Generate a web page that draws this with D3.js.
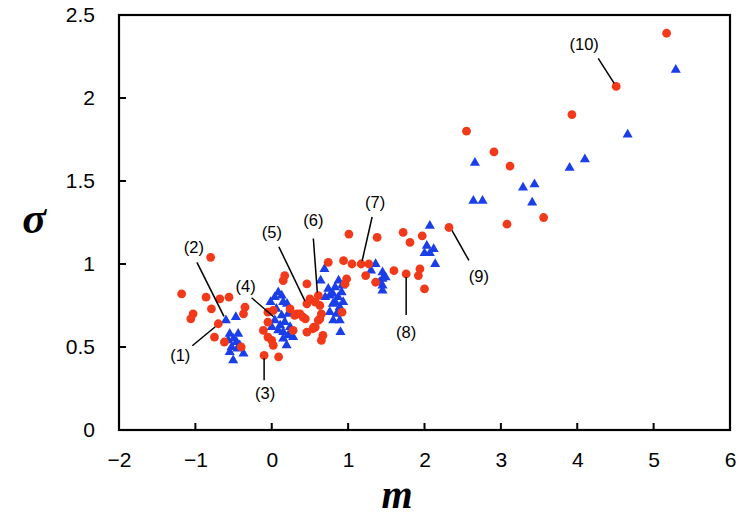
<!DOCTYPE html>
<html><head><meta charset="utf-8">
<script src="https://cdn.jsdelivr.net/npm/d3@7"></script>
<style>body{margin:0;background:#fff}svg{display:block}</style>
</head><body>
<svg id="c" width="744" height="527"></svg>
<script>
// Series A: red circles  [m, sigma]
const redPoints = [
 [5.17,2.39],[4.51,2.07],[3.93,1.90],[2.55,1.80],[2.91,1.675],[3.12,1.59],[3.56,1.28],[3.08,1.24],[2.32,1.22],
 [1.38,1.16],[1.72,1.19],[1.97,1.17],[1.81,1.13],[1.17,1.00],[1.27,1.00],[1.23,0.93],[1.36,0.89],[1.60,0.96],[1.76,0.94],[1.94,0.97],[1.92,0.93],[2.00,0.85],
 [1.01,1.18],[0.74,1.01],[0.94,1.02],[1.05,1.00],[0.98,0.91],[0.96,0.88],[0.61,0.81],[0.57,0.77],[0.63,0.75],[0.65,0.70],[0.63,0.67],[0.92,0.71],[0.55,0.62],[0.67,0.57],[0.65,0.54],
 [0.46,0.88],[0.46,0.76],[0.33,0.70],[0.41,0.68],[0.57,0.62],[0.46,0.59],[0.28,0.60],
 [0.17,0.93],[0.15,0.90],[0.24,0.73],[0.37,0.70],[0.44,0.67],[0.30,0.69],[0.61,0.66],[0.54,0.61],[-0.11,0.60],[-0.05,0.56],[0.00,0.54],[0.02,0.51],[-0.10,0.45],[0.09,0.44],[-0.05,0.71],[-0.05,0.65],[0.02,0.72],[0.50,0.79],
 [-0.80,1.04],[-1.18,0.82],[-0.86,0.80],[-0.68,0.79],[-0.56,0.80],[-0.79,0.73],[-1.03,0.70],[-1.06,0.67],[-0.35,0.74],[-0.37,0.70],[-0.70,0.64],[-0.75,0.56],[-0.62,0.53],[-0.40,0.50]
];
// Series B: blue triangles [m, sigma]
const bluePoints = [
 [5.29,2.17],[4.66,1.78],[4.10,1.63],[3.90,1.58],[2.66,1.61],[3.29,1.46],[3.44,1.48],[3.41,1.37],[2.64,1.38],[2.76,1.38],
 [2.07,1.23],[2.03,1.11],[2.12,1.09],[2.00,1.065],[2.07,1.065],[2.14,1.00],[1.36,1.00],[1.30,0.96],[1.45,0.95],[1.45,0.91],[1.45,0.87],[1.45,0.84],[1.41,0.89],[1.49,0.92],
 [0.69,0.97],[0.64,0.90],[0.875,0.90],[0.74,0.85],[0.83,0.86],[0.915,0.83],[0.76,0.81],[0.87,0.80],[0.935,0.77],[0.83,0.77],[0.89,0.74],[0.76,0.71],[0.85,0.70],[0.805,0.66],[0.89,0.66],[0.90,0.59],[0.70,0.80],[0.80,0.82],[0.92,0.87],[0.80,0.76],
 [0.085,0.83],[0.13,0.81],[0.04,0.80],[-0.016,0.77],[0.15,0.77],[0.06,0.73],[0.215,0.70],[0.13,0.69],[0.04,0.66],[0.17,0.65],[0.11,0.63],[0.24,0.62],[0.15,0.59],[0.085,0.60],[0.215,0.57],[0.15,0.55],[0.195,0.51],[0.28,0.56],[0.00,0.62],[0.20,0.76],
 [-0.60,0.66],[-0.47,0.68],[-0.55,0.58],[-0.44,0.58],[-0.57,0.54],[-0.46,0.53],[-0.525,0.50],[-0.42,0.51],[-0.55,0.47],[-0.37,0.46],[-0.505,0.42],[-0.50,0.55],[-0.45,0.49]
];
const xTicks = [-2,-1,0,1,2,3,4,5,6];
const yTicks = [0,0.5,1,1.5,2,2.5];
const xTitle = "m";
const yTitle = "σ";
// Annotations: label and the annotated point [m, sigma]
const annoLabels = ["(1)","(2)","(3)","(4)","(5)","(6)","(7)","(8)","(9)","(10)"];
const annoPoints = [[-0.70,0.64],[-0.60,0.66],[-0.10,0.45],[0.05,0.67],[0.46,0.76],[0.61,0.81],[1.17,1.00],[1.76,0.94],[2.32,1.22],[4.51,2.07]];
// layout: leader line start/end offsets & label offsets (px, relative to point)
const annoLayout = [
 {x0:-3,y0:3,x1:-26,y1:22,lx:-38,ly:31},
 {x0:-2,y0:-4,x1:-29,y1:-58,lx:-32,ly:-73},
 {x0:0,y0:3,x1:0,y1:25,lx:1,ly:38},
 {x0:-2,y0:-2,x1:-24,y1:-21,lx:-30,ly:-33},
 {x0:-2,y0:-3,x1:-28,y1:-57,lx:-35,ly:-72},
 {x0:-1,y0:-3,x1:-5,y1:-57,lx:-5,ly:-75},
 {x0:1,y0:-3,x1:11,y1:-47,lx:14,ly:-62},
 {x0:0,y0:3,x1:0,y1:41,lx:0,ly:58},
 {x0:3,y0:3,x1:20,y1:33,lx:30,ly:49},
 {x0:-2,y0:-3,x1:-18,y1:-28,lx:-32,ly:-42}
];

const L = 119, R = 730, T = 15, B = 430;
const svg = d3.select("#c");
const x = d3.scaleLinear().domain([-2,6]).range([L,R]);
const y = d3.scaleLinear().domain([0,2.5]).range([B,T]);
const font = "'Liberation Sans', Arial, Helvetica, sans-serif";

// frame
svg.append("rect").attr("x",L).attr("y",T).attr("width",R-L).attr("height",B-T)
  .attr("fill","none").attr("stroke","#000").attr("stroke-width",2.2);

// x axis
const gx = svg.append("g").attr("transform",`translate(0,${B})`)
  .call(d3.axisBottom(x).tickValues(xTicks).tickSize(0).tickPadding(22)
    .tickFormat(d => d < 0 ? "\u2212" + Math.abs(d) : String(d)));
gx.select(".domain").remove();
gx.selectAll("text").attr("font-family",font).attr("font-size",21).attr("fill","#000");
svg.append("g").selectAll("line").data(xTicks.slice(1,-1)).join("line")
  .attr("x1",d=>x(d)).attr("x2",d=>x(d)).attr("y1",B).attr("y2",B-7)
  .attr("stroke","#000").attr("stroke-width",2);

// y axis
const gy = svg.append("g").attr("transform",`translate(${L},0)`)
  .call(d3.axisLeft(y).tickValues(yTicks).tickSize(0).tickPadding(24).tickFormat(d3.format("")));
gy.select(".domain").remove();
gy.selectAll("text").attr("font-family",font).attr("font-size",21).attr("fill","#000");
svg.append("g").selectAll("line").data(yTicks.slice(1,-1)).join("line")
  .attr("y1",d=>y(d)).attr("y2",d=>y(d)).attr("x1",L).attr("x2",L+7)
  .attr("stroke","#000").attr("stroke-width",2);

// titles
svg.append("text").attr("x",397).attr("y",508).attr("text-anchor","middle")
  .attr("font-family","'Liberation Serif','Times New Roman',serif").attr("font-style","italic")
  .attr("font-weight","bold").attr("font-size",40).text(xTitle);
svg.append("text").attr("x",34).attr("y",233).attr("text-anchor","middle")
  .attr("font-family","'Liberation Serif','Times New Roman',serif").attr("font-style","italic")
  .attr("font-weight","bold").attr("font-size",44).text(yTitle);

// blue triangles
const tri = d3.symbol().type(d3.symbolTriangle).size(44);
svg.append("g").selectAll("path").data(bluePoints).join("path")
  .attr("d",tri).attr("transform",d=>`translate(${x(d[0])},${y(d[1])})`)
  .attr("fill","#1a3ee8");

// red circles
svg.append("g").selectAll("circle").data(redPoints).join("circle")
  .attr("cx",d=>x(d[0])).attr("cy",d=>y(d[1])).attr("r",4.4)
  .attr("fill","#f2391a");

// annotations
const ag = svg.append("g");
annoPoints.forEach((p,i)=>{
  const px = x(p[0]), py = y(p[1]), a = annoLayout[i];
  ag.append("line").attr("x1",px+a.x0).attr("y1",py+a.y0).attr("x2",px+a.x1).attr("y2",py+a.y1)
    .attr("stroke","#000").attr("stroke-width",1.5);
  ag.append("text").attr("x",px+a.lx).attr("y",py+a.ly).attr("dy","0.35em")
    .attr("text-anchor","middle").attr("font-family",font).attr("font-size",16.5)
    .attr("fill","#000").text(annoLabels[i]);
});
</script>
</body></html>
